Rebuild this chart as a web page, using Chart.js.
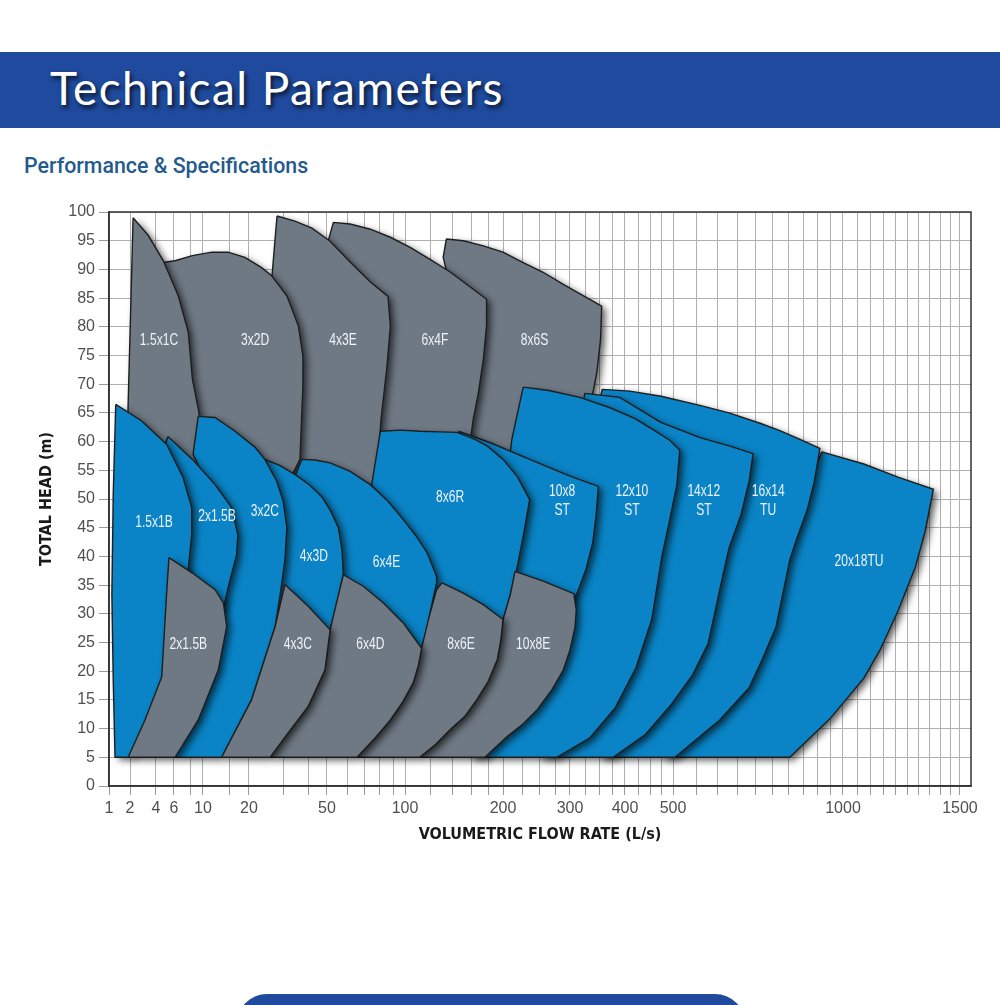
<!DOCTYPE html>
<html>
<head>
<meta charset="utf-8">
<script src="https://cdn.jsdelivr.net/npm/chart.js@4.4.1/dist/chart.umd.min.js"></script>
<style>
  html, body { margin: 0; padding: 0; background: #fff; }
  body { width: 1000px; height: 1005px; position: relative; overflow: hidden; }
  .banner { position: absolute; left: 0; top: 52px; width: 1000px; height: 76px; background: #1f4a9d; }
  .banner h1 {
    margin: 0; position: absolute; left: 50px; top: 8px; line-height: 76px;
    font: 400 46px Lato, "Open Sans", sans-serif; color: #fff; letter-spacing: 1.4px;
    text-shadow: 2px 3px 4px rgba(0, 0, 0, 0.75);
  }
  .sub {
    position: absolute; left: 24px; top: 153px; line-height: 26px;
    font: 500 22px Roboto, "Liberation Sans", sans-serif; color: #245a8c;
    transform: scaleX(0.97); transform-origin: 0 0; white-space: nowrap;
  }
  #wrap { position: absolute; left: 0; top: 190px; width: 1000px; height: 670px; }
  .foot { position: absolute; left: 237px; top: 994px; width: 508px; height: 60px; background: #1f4a9d; border-radius: 30px 30px 0 0; }
</style>
</head>
<body>
<div class="banner"><h1>Technical Parameters</h1></div>
<div class="sub">Performance &amp; Specifications</div>
<div id="wrap"><canvas id="chart" width="1000" height="670"></canvas></div>
<div class="foot"></div>

<script>
// x axis: labelled flow values and where they sit along the axis (0..1)
const XTICKS = [1, 2, 4, 6, 10, 20, 50, 100, 200, 300, 400, 500, 1000, 1500];
const XTICK_POS = [0, 0.0244, 0.0545, 0.0754, 0.109, 0.1624, 0.2529, 0.3434, 0.4571, 0.5348, 0.5986, 0.6543, 0.8515, 0.9872];
const XGRID = [1, 2, 4, 6, 8, 10, 15, 20, 30, 40, 50, 60, 70, 80, 90, 100, 120, 140, 160, 180, 200,
  225, 250, 275, 300, 325, 350, 375, 400, 425, 450, 475, 500, 550, 600, 650, 700, 750, 800, 850, 900, 950,
  1000, 1050, 1100, 1150, 1200, 1250, 1300, 1350, 1400, 1450, 1500];
const YTICKS_STEP = 5;

// pump envelopes, [flow L/s, head m]
// grey upper row
const P_8x6S = [[134, 95.3], [151, 95.0], [174, 94.1], [200, 93.0], [226, 91.2], [255, 89.5], [288, 87.4], [322, 85.4], [354, 83.6], [352, 77.8], [345, 72.0], [336, 67.4], [330, 60.4], [215, 55.1], [158, 58.6], [148, 79.6], [131, 92.1]];
const P_6x4F = [[52.9, 98.2], [61.4, 97.9], [73.5, 97.0], [87.8, 95.6], [104, 93.8], [119, 91.8], [138, 89.5], [159, 86.9], [178, 84.8], [178, 80.2], [174, 74.3], [168, 68.5], [162, 63.9], [159, 60.4], [51.4, 60.4], [49.4, 93.5]];
const P_4x3E = [[27.8, 99.3], [34.3, 98.4], [41.9, 97.2], [51.4, 94.9], [61.4, 91.3], [73.5, 87.8], [86, 85.3], [87.8, 80.1], [85.2, 73.1], [80.8, 63.9], [77.3, 52.0], [30.5, 52.0], [27.2, 70.9], [26.2, 88.8]];
const P_3x2D = [[4.18, 91.1], [6.11, 91.5], [8.3, 92.4], [11.4, 93.0], [14.6, 93.0], [18.8, 92.1], [23.2, 90.3], [26.1, 88.9], [31.2, 85.4], [35.7, 80.2], [37.7, 74.9], [37.7, 69.7], [37.2, 65.1], [36.4, 56.9], [30.5, 51.7], [6.66, 51.7]];
const P_1_5x1C = [[2.17, 99.0], [3.26, 95.9], [4.72, 91.5], [6.47, 85.4], [7.72, 79.1], [8.3, 70.9], [9.32, 65.1], [9.8, 53.4], [2.0, 53.4], [1.87, 65.6], [2.05, 84.8]];
// blue row
const P_20x18TU = [[917, 58.2], [1075, 56.1], [1210, 53.8], [1368, 51.7], [1329, 44.3], [1284, 38.0], [1210, 30.5], [1137, 23.7], [1075, 18.8], [948, 11.7], [805, 5], [471, 5], [657, 23.7]];
const P_16x14TU = [[355, 69.1], [409, 68.8], [473, 67.9], [558, 66.3], [628, 65.0], [713, 63.2], [773, 61.9], [839, 60.4], [910, 58.8], [890, 53.1], [863, 47.9], [829, 43.2], [805, 39.4], [761, 27.7], [719, 22.0], [682, 17.1], [605, 11.5], [504, 5], [351, 5], [349, 66.7]];
const P_14x12ST = [[324, 68.4], [389, 67.7], [471, 63.4], [558, 60.7], [631, 59.2], [693, 57.9], [682, 53.1], [660, 47.3], [628, 41.4], [605, 34.2], [577, 24.8], [542, 19.4], [495, 14.1], [439, 8.9], [376, 5], [249, 5]];
const P_12x10ST = [[226, 69.5], [264, 68.9], [316, 67.7], [370, 65.9], [419, 64.0], [459, 61.9], [493, 60.2], [514, 58.5], [508, 52.5], [493, 46.6], [475, 40.1], [453, 29.0], [421, 20.6], [380, 13.6], [333, 8.4], [277, 5], [158, 5], [170, 15.0], [202, 49.9], [211, 60.4]];
const P_10x8ST = [[146, 61.8], [183, 59.8], [235, 56.9], [300, 54.0], [348, 52.2], [344, 47.3], [338, 42.4], [326, 37.7], [311, 33.5], [249, 25.5], [196, 32.5], [202, 53.4]];
const P_8x6R = [[80.3, 61.8], [96, 62.0], [111, 61.8], [128, 61.7], [144.5, 61.6], [164, 60.4], [179, 59.2], [200, 56.9], [218, 53.9], [235, 49.9], [226, 43.5], [218, 38.2], [209, 33.3], [200, 29.0], [158, 23.7], [115, 32.5], [76.8, 49.9], [74.4, 52.5]];
const P_6x4E = [[37.2, 56.9], [43.4, 56.8], [51.4, 56.3], [61.4, 54.8], [73.5, 52.5], [86, 49.6], [98.5, 46.4], [108, 43.6], [117, 40.6], [125, 36.5], [125, 35.4], [119, 29.8], [114, 24.1], [96, 18.5], [53.7, 25.5], [32.3, 51.7]];
const P_4x3D = [[24.1, 56.9], [28.8, 55.8], [34.3, 54.3], [40.9, 52.4], [47.3, 50.3], [51.8, 47.8], [55.3, 45.0], [57.1, 41.2], [57.8, 36.8], [55.1, 32.5], [51.4, 27.2], [36.4, 22.0], [24.1, 32.5], [23.3, 53.4]];
const P_3x2C = [[9.2, 64.4], [12.0, 64.2], [16.2, 61.8], [21.5, 59.0], [24.1, 56.9], [27.7, 53.1], [29.9, 49.6], [31.2, 45.0], [30.5, 39.4], [29.1, 34.2], [27.2, 27.8], [20.6, 15.0], [13.25, 5], [6.11, 5], [8.95, 18.5], [13.9, 39.4], [10.3, 53.4], [8.4, 57.8]];
const P_2x1_5B = [[5.24, 60.9], [8.3, 56.9], [12.0, 52.5], [15.4, 48.5], [16.9, 43.8], [16.6, 40.3], [14.6, 34.6], [13.9, 31.9], [8.95, 23.7], [5.46, 23.7], [4.38, 56.9]];
const P_1_5x1B = [[1.25, 66.5], [1.15, 50.8], [1.10, 33.3], [1.15, 18.5], [1.22, 5], [2.0, 5], [6.11, 15.0], [7.73, 32.5], [7.73, 38.0], [8.2, 43.8], [8.2, 48.5], [7.03, 53.8], [5.09, 59.5], [2.73, 63.6]];
// grey lower row
const P_10x8E = [[215, 37.4], [255, 35.7], [306, 33.5], [310, 30.7], [308, 27.7], [300, 23.7], [288, 20.2], [269, 16.8], [246, 13.3], [224, 10.6], [205, 8.6], [176, 5], [111, 5], [124.5, 7.3], [137.5, 9.8], [153, 12.2], [166, 15.0], [180, 18.2], [192, 22.0], [197, 25.5], [200, 29.0], [209, 33.3]];
const P_8x6E = [[130, 35.4], [151, 33.6], [174, 31.6], [200, 29.0], [197, 25.5], [192, 22.0], [180, 18.2], [166, 15.0], [153, 12.2], [137.5, 9.8], [124.5, 7.3], [111, 5], [65.3, 5], [76.8, 8.4], [87.8, 11.5], [98.2, 14.7], [106, 18.0], [110, 21.1], [112.5, 24.1], [119, 29.8], [125, 34.2]];
const P_6x4D = [[57.8, 36.8], [69, 34.8], [82.5, 31.9], [98.5, 28.4], [112.5, 24.0], [110, 21.1], [106, 18.0], [98.2, 14.7], [87.8, 11.5], [76.8, 8.4], [65.3, 5], [25.6, 5], [31.6, 9.2], [40.0, 13.8], [48.8, 20.2], [51.4, 27.2], [54.2, 31.6], [56.6, 35.1]];
const P_4x3C = [[30.5, 35.1], [40.1, 31.3], [51.4, 27.2], [48.8, 20.2], [40.0, 13.8], [31.6, 9.2], [25.6, 5], [13.25, 5], [20.6, 15.0], [27.2, 27.8]];
const P_2x1_5B_grey = [[5.36, 39.8], [8.3, 37.1], [12.0, 34.2], [13.6, 31.9], [14.3, 27.8], [12.6, 20.2], [9.2, 11.5], [6.11, 5], [1.88, 5], [2.98, 11.5], [4.55, 19.0], [5.09, 33.7]];

// back to front
const SHAPES = [
  ["8x6S", P_8x6S, "grey"], ["6x4F", P_6x4F, "grey"], ["4x3E", P_4x3E, "grey"], ["3x2D", P_3x2D, "grey"], ["1.5x1C", P_1_5x1C, "grey"],
  ["20x18TU", P_20x18TU, "blue"], ["16x14TU", P_16x14TU, "blue"], ["14x12ST", P_14x12ST, "blue"], ["12x10ST", P_12x10ST, "blue"],
  ["10x8ST", P_10x8ST, "blue"], ["8x6R", P_8x6R, "blue"], ["6x4E", P_6x4E, "blue"], ["4x3D", P_4x3D, "blue"], ["3x2C", P_3x2C, "blue"],
  ["2x1.5B", P_2x1_5B, "blue"], ["1.5x1B", P_1_5x1B, "blue"],
  ["10x8E", P_10x8E, "grey"], ["8x6E", P_8x6E, "grey"], ["6x4D", P_6x4D, "grey"], ["4x3C", P_4x3C, "grey"], ["2x1.5B grey", P_2x1_5B_grey, "grey"]
];

const LABEL_TEXT = ["1.5x1C", "3x2D", "4x3E", "6x4F", "8x6S", "1.5x1B", "2x1.5B", "3x2C", "4x3D", "6x4E", "8x6R",
  "10x8\nST", "12x10\nST", "14x12\nST", "16x14\nTU", "20x18TU", "2x1.5B", "4x3C", "6x4D", "8x6E", "10x8E"];
const LABEL_FLOW = [4.28, 21.5, 57.6, 123.6, 242, 3.79, 12.35, 24.1, 42.9, 84.8, 137.5, 286, 413, 567, 737, 1057, 7.73, 35.5, 73.5, 148.6, 240];
const LABEL_HEAD = [77.7, 77.7, 77.7, 77.7, 77.7, 45.9, 46.9, 47.8, 40.0, 38.9, 50.3, 49.7, 49.7, 49.7, 49.7, 39.1, 24.6, 24.6, 24.6, 24.6, 24.6];

const COLORS = { grey: "#6f7984", blue: "#0a84c6" };

// piecewise-log position of a flow value along the x axis
function flowFraction(v) {
  let i = 0;
  while (i < XTICKS.length - 2 && v > XTICKS[i + 1]) i++;
  const t = Math.log(v / XTICKS[i]) / Math.log(XTICKS[i + 1] / XTICKS[i]);
  return XTICK_POS[i] + (XTICK_POS[i + 1] - XTICK_POS[i]) * t;
}
function fractionFlow(f) {
  let i = 0;
  while (i < XTICK_POS.length - 2 && f > XTICK_POS[i + 1]) i++;
  const t = (f - XTICK_POS[i]) / (XTICK_POS[i + 1] - XTICK_POS[i]);
  return XTICKS[i] * Math.pow(XTICKS[i + 1] / XTICKS[i], t);
}

class FlowScale extends Chart.LinearScale {
  buildTicks() {
    return XGRID.map((v) => ({ value: v }));
  }
  getPixelForValue(value) {
    return this.getPixelForDecimal(flowFraction(value));
  }
  getValueForPixel(pixel) {
    return fractionFlow(this.getDecimalForPixel(pixel));
  }
}
FlowScale.id = "flow";
FlowScale.defaults = {};
Chart.register(FlowScale);

// shadow under the fills only; filler has to run between these two
const shadowOn = {
  id: "shadowOn",
  beforeDatasetDraw(chart) {
    const ctx = chart.ctx;
    ctx.save();
    ctx.shadowColor = "rgba(0,0,0,0.65)";
    ctx.shadowBlur = 7;
    ctx.shadowOffsetX = 4;
    ctx.shadowOffsetY = 3;
  },
  afterDatasetDraw(chart) {
    chart.ctx.restore();
  }
};
const shadowOff = {
  id: "shadowOff",
  beforeDatasetDraw(chart) {
    chart.ctx.shadowColor = "rgba(0,0,0,0)";
  }
};
Chart.unregister(Chart.Filler);
Chart.register(shadowOn);
Chart.register(Chart.Filler);
Chart.register(shadowOff);

const framePlugin = {
  id: "frame",
  beforeDatasetsDraw(chart) {
    const { ctx, chartArea: a } = chart;
    ctx.save();
    ctx.strokeStyle = "#333";
    ctx.lineWidth = 1.5;
    ctx.strokeRect(a.left, a.top, a.right - a.left, a.bottom - a.top);
    ctx.restore();
  }
};

const labelPlugin = {
  id: "shapeLabels",
  afterDatasetsDraw(chart) {
    const { ctx } = chart;
    const x = chart.scales.x;
    const y = chart.scales.y;
    ctx.save();
    ctx.fillStyle = "#eef3f8";
    ctx.font = '17px "Liberation Sans", Arial, sans-serif';
    ctx.textAlign = "center";
    ctx.textBaseline = "middle";
    LABEL_TEXT.forEach((text, i) => {
      const lines = text.split("\n");
      const px = x.getPixelForValue(LABEL_FLOW[i]);
      const py = y.getPixelForValue(LABEL_HEAD[i]);
      lines.forEach((line, j) => {
        ctx.save();
        ctx.translate(px, py + (j - (lines.length - 1) / 2) * 19);
        ctx.scale(0.71, 1);
        ctx.fillText(line, 0, 0);
        ctx.restore();
      });
    });
    ctx.restore();
  }
};

const datasets = SHAPES.map(([name, pts, kind], i) => ({
  label: name,
  data: pts.concat([pts[0]]).map(([x, y]) => ({ x, y })),
  fill: "shape",
  backgroundColor: COLORS[kind],
  borderColor: "#1e1e1e",
  borderWidth: 1.4,
  pointRadius: 0,
  tension: 0,
  order: SHAPES.length - i
}));

new Chart(document.getElementById("chart"), {
  type: "line",
  data: { datasets },
  plugins: [framePlugin, labelPlugin],
  options: {
    responsive: false,
    animation: false,
    devicePixelRatio: 1,
    events: [],
    layout: { padding: { top: 22, right: 29, left: 0, bottom: 0 } },
    plugins: { legend: { display: false }, tooltip: { enabled: false } },
    scales: {
      x: {
        type: "flow",
        min: 1,
        max: 1559,
        afterFit: (s) => { s.height = 74; },
        grid: { color: "#b0b0b0", lineWidth: 1, tickLength: 9, tickColor: "#9a9a9a" },
        border: { display: true, color: "#333", width: 1.5 },
        ticks: {
          autoSkip: false,
          maxRotation: 0,
          padding: 4,
          color: "#505050",
          font: { family: '"Liberation Sans", Arial, sans-serif', size: 16 },
          callback: (v) => (XTICKS.includes(v) ? String(v) : "")
        },
        title: {
          display: true,
          text: "VOLUMETRIC FLOW RATE (L/s)",
          color: "#1a1a1a",
          font: { family: '"Liberation Sans Narrow", "DejaVu Sans Condensed", sans-serif', size: 16, weight: "bold" },
          padding: { top: 0, bottom: 16 }
        }
      },
      y: {
        min: 0,
        max: 100,
        afterFit: (s) => { s.width = 109; },
        grid: { color: "#b0b0b0", lineWidth: 1, tickLength: 10, tickColor: "#9a9a9a" },
        border: { display: true, color: "#333", width: 1.5 },
        ticks: {
          stepSize: YTICKS_STEP,
          padding: 4,
          color: "#505050",
          font: { family: '"Liberation Sans", Arial, sans-serif', size: 16 }
        },
        title: {
          display: true,
          text: "TOTAL HEAD (m)",
          color: "#1a1a1a",
          font: { family: '"Liberation Sans Narrow", "DejaVu Sans Condensed", sans-serif', size: 16, weight: "bold" },
          padding: { top: 37, bottom: 0 }
        }
      }
    }
  }
});
</script>
</body>
</html>
